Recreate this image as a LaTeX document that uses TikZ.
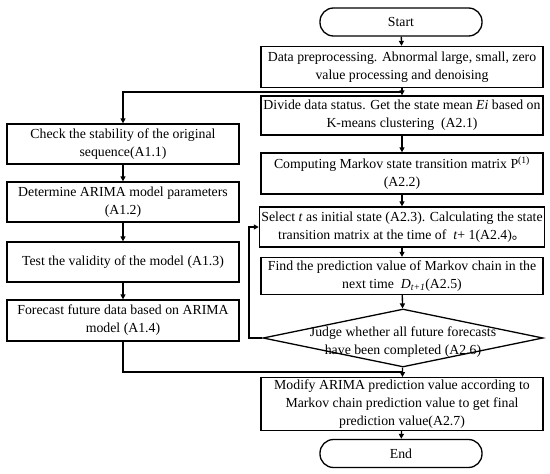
\documentclass[tikz,border=0pt]{standalone}
\usepackage{fontspec}
\setmainfont{Liberation Serif}
\newfontfamily\cjk{Noto Sans CJK SC}
\usetikzlibrary{shapes.geometric,arrows.meta}

\begin{document}
\begin{tikzpicture}[x=1pt,y=-1pt,
  every node/.style={font=\fontsize{13.8}{18}\selectfont},
  box/.style={draw,line width=1.3pt,align=center,inner sep=2pt},
  rbox/.style={box,minimum width=282pt},
  lbox/.style={box,minimum width=232pt},
  term/.style={draw,line width=1.3pt,rounded corners=13.5pt,minimum width=162pt,minimum height=28pt},
  decision/.style={draw,line width=1.3pt,diamond,minimum width=280pt,minimum height=58pt,inner sep=0pt},
  arr/.style={line width=1.3pt,-{Triangle[length=5pt,width=5pt]}},
  line/.style={line width=1.3pt}]
\useasboundingbox (0,0) rectangle (550,474);
\node [term] (start) at (401,22) {Start};
\node [rbox,minimum height=41pt] (pre) at (402,67) {Data preprocessing. Abnormal large, small, zero\\value processing and denoising};
\node [rbox,minimum height=39pt] (divide) at (402,115.5) {Divide data status. Get the state mean \textit{Ei} based on\\K-means clustering\ \ (A2.1)};
\node [rbox,minimum height=41pt] (markov) at (402,173.5) {Computing Markov state transition matrix P\textsuperscript{(1)}\\(A2.2)};
\node [rbox,minimum height=40pt] (select) at (402,227) {Select \textit{t} as initial state (A2.3). Calculating the state\\transition matrix at the time of\ \ \textit{t}+ 1(A2.4){\cjk 。}};
\node [rbox,minimum height=37pt] (find) at (402,276) {Find the prediction value of Markov chain in the\\next time\ \ \textit{D\textsubscript{t+1}}(A2.5)};
\node [decision] (judge) at (403,338) {};
\node [align=center] (judgetext) at (403,342) {Judge whether all future forecasts\\have been completed (A2.6)};
\node [rbox,minimum height=52pt] (modify) at (402,404) {Modify ARIMA prediction value according to\\Markov chain prediction value to get final\\prediction value(A2.7)};
\node [term] (end) at (401,453.5) {End};
\node [lbox,minimum height=40pt] (check) at (123,144) {Check the stability of the original\\sequence(A1.1)};
\node [lbox,minimum height=40pt] (arima) at (123,202) {Determine ARIMA model parameters\\(A1.2)};
\node [lbox,minimum height=40pt] (test) at (123,262) {Test the validity of the model (A1.3)};
\node [lbox,minimum height=41pt] (forecast) at (123,320.5) {Forecast future data based on ARIMA\\model (A1.4)};
\coordinate (split) at (402,92);
\coordinate (merge) at (402,372);
\coordinate (back) at (249,338);
% main column
\draw [arr] (start) -- (pre);
\draw [arr] (pre) -- (divide);
\draw [arr] (divide) -- (markov);
\draw [arr] (markov) -- (select);
\draw [arr] (select) -- (find);
\draw [arr] (find) -- (judge);
\draw [arr] (judge) -- (modify);
\draw [arr] (modify) -- (end);
% left column
\draw [arr] (split) -| (check);
\draw [arr] (check) -- (arima);
\draw [arr] (arima) -- (test);
\draw [arr] (test) -- (forecast);
\draw [line] (forecast) |- (merge);
% loop back
\draw [arr] (judge.west) -- (back) |- (select.west);
\end{tikzpicture}
\end{document}
